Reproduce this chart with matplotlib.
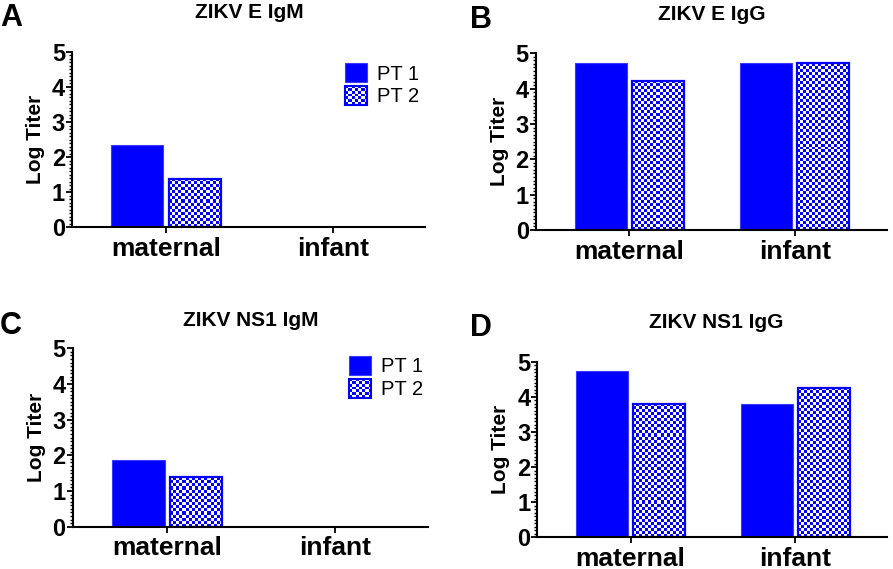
import numpy as np
import matplotlib
matplotlib.use('Agg')
import matplotlib.pyplot as plt
from matplotlib.image import BboxImage
from matplotlib.transforms import Bbox, TransformedBbox
from matplotlib.legend_handler import HandlerBase
from matplotlib.patches import Rectangle

plt.rcParams['font.family'] = ['Liberation Sans', 'DejaVu Sans']

categories = ['maternal', 'infant']
series_names = ['PT 1', 'PT 2']
panel_letters = ['A', 'B', 'C', 'D']
panel_titles = ['ZIKV E IgM', 'ZIKV E IgG', 'ZIKV NS1 IgM', 'ZIKV NS1 IgG']

e_igm_pt1 = [2.35, 0.0]
e_igm_pt2 = [1.38, 0.0]
e_igg_pt1 = [4.72, 4.72]
e_igg_pt2 = [4.23, 4.72]
ns1_igm_pt1 = [1.87, 0.0]
ns1_igm_pt2 = [1.38, 0.0]
ns1_igg_pt1 = [4.73, 3.79]
ns1_igg_pt2 = [3.79, 4.26]

yticks = [0, 1, 2, 3, 4, 5]

BLUE = '#0000FF'
CELL = 3.0  # checker cell size in pixels


def checker(nx, ny):
    yy, xx = np.mgrid[0:ny, 0:nx]
    m = ((xx + yy) % 2 == 0)
    img = np.ones((ny, nx, 3))
    img[m] = [0, 0, 1]
    return img


class HandlerChecker(HandlerBase):
    def create_artists(self, legend, orig_handle, xdescent, ydescent,
                       width, height, fontsize, trans):
        bb = Bbox.from_bounds(-xdescent, -ydescent, width, height)
        img = BboxImage(TransformedBbox(bb, trans), interpolation='nearest')
        n = 7
        img.set_data(checker(n, n))
        rect = Rectangle((-xdescent, -ydescent), width, height,
                         facecolor='none', edgecolor=BLUE, lw=1.5,
                         transform=trans)
        return [img, rect]


fig = plt.figure(figsize=(8.93, 5.69), dpi=100)

positions = [
    [0.0806, 0.6005, 0.476 - 0.0806, 0.909 - 0.6005],
    [0.600, 0.5958, 0.993 - 0.600, 0.9063 - 0.5958],
    [0.0814, 0.0743, 0.479 - 0.0814, 0.3879 - 0.0743],
    [0.6017, 0.0557, 0.9933 - 0.6017, 0.3643 - 0.0557],
]
data = [
    (e_igm_pt1, e_igm_pt2),
    (e_igg_pt1, e_igg_pt2),
    (ns1_igm_pt1, ns1_igm_pt2),
    (ns1_igg_pt1, ns1_igg_pt2),
]
legend_anchor = {0: (0.773, 0.936), 2: (0.778, 0.958)}
letter_pos = [(0.0, 1 - 3 / 569), (470 / 893, 1 - 5 / 569),
              (0.0, 1 - 311 / 569), (470 / 893, 1 - 313 / 569)]
title_pos = [(249 / 893, 1 - 13 / 569), (712 / 893, 1 - 14 / 569),
             (251 / 893, 1 - 320 / 569), (716 / 893, 1 - 323 / 569)]

width = 0.313
off = 0.172
XLIM = (-0.565, 1.555)
YLIM = (0, 5)

for i, (pos, (p1, p2)) in enumerate(zip(positions, data)):
    ax = fig.add_axes(pos)
    ax.set_xlim(*XLIM)
    ax.set_ylim(*YLIM)
    x = np.arange(len(categories))
    lw1 = [0.8 if v > 0 else 0 for v in p1]
    ax.bar(x - off, p1, width, color=BLUE, edgecolor='#3a3aff',
           linewidth=lw1, zorder=2, label=series_names[0])
    b2 = ax.bar(x + off, p2, width, color='white', edgecolor='none',
                linewidth=0, zorder=2)
    # checker fill
    for rect in b2.patches:
        h = rect.get_height()
        if h <= 0:
            continue
        x0 = rect.get_x()
        x1 = x0 + rect.get_width()
        p0 = ax.transData.transform((x0, 0))
        pp = ax.transData.transform((x1, h))
        wpx = pp[0] - p0[0]
        hpx = pp[1] - p0[1]
        nx = max(1, int(round(wpx / CELL)))
        ny = max(1, int(round(hpx / CELL)))
        im = ax.imshow(checker(nx, ny), extent=(x0, x1, 0, h), origin='lower',
                       aspect='auto', interpolation='nearest', zorder=2.5)
        im.set_clip_path(rect)
    lw2 = [1.6 if v > 0 else 0 for v in p2]
    ax.bar(x + off, p2, width, color='none', edgecolor=BLUE, linewidth=lw2,
           zorder=3)
    ax.set_xlim(*XLIM)
    ax.set_ylim(*YLIM)
    ax.set_aspect('auto')

    for s in ['top', 'right']:
        ax.spines[s].set_visible(False)
    for s in ['left', 'bottom']:
        ax.spines[s].set_linewidth(1.5)
        ax.spines[s].set_zorder(4)
    ax.set_xticks(x)
    ax.set_xticklabels(categories, fontsize=19, fontweight='bold')
    ax.set_yticks(yticks)
    ax.set_yticklabels([str(t) for t in yticks], fontsize=17, fontweight='bold')
    ax.set_yticks(np.arange(0, 5.01, 0.1), minor=True)
    ax.tick_params(axis='y', which='major', length=4, width=1.3, pad=1)
    ax.tick_params(axis='y', which='minor', length=2.2, width=1.0)
    ax.tick_params(axis='x', which='major', length=4, width=1.3, pad=3)
    ax.set_ylabel('Log Titer', fontsize=15, fontweight='bold', labelpad=5)

    if i in legend_anchor:
        h1 = Rectangle((0, 0), 1, 1, facecolor=BLUE, edgecolor='#3a3aff', lw=0.8)
        h2 = Rectangle((0, 0), 1, 1)
        ax.legend([h1, h2], series_names, loc='upper left',
                  bbox_to_anchor=legend_anchor[i], frameon=False,
                  borderaxespad=0, borderpad=0, fontsize=14.5,
                  handlelength=1.1, handleheight=1.1, labelspacing=0.12,
                  handletextpad=0.5, handler_map={h2: HandlerChecker()})

    fig.text(*letter_pos[i], panel_letters[i], fontsize=22, fontweight='bold',
             ha='left', va='top')
    fig.text(*title_pos[i], panel_titles[i], fontsize=15, fontweight='bold',
             ha='center', va='center')

fig.savefig('out.png', dpi=100)
